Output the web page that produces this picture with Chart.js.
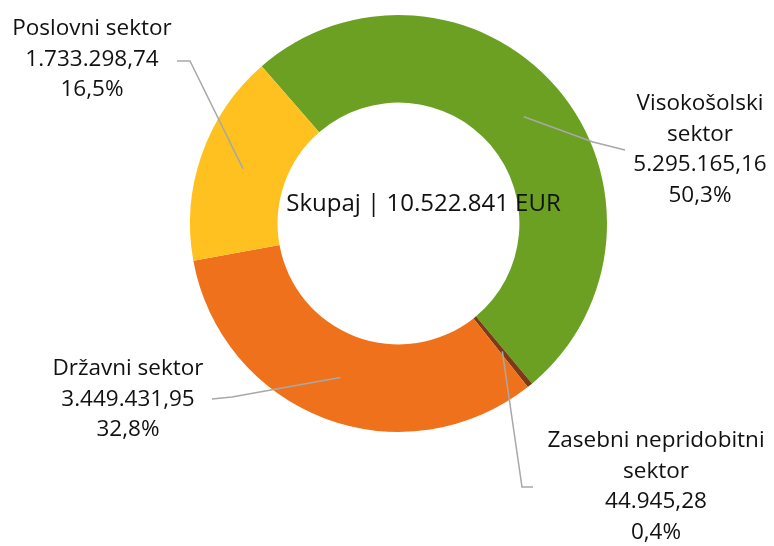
<!DOCTYPE html>
<html>
<head>
<meta charset="utf-8">
<title>Skupaj po sektorjih</title>
<script src="https://cdn.jsdelivr.net/npm/chart.js@4.4.0/dist/chart.umd.min.js"></script>
<style>
  html, body { margin: 0; padding: 0; background: #fff; }
  #wrap { width: 774px; height: 546px; }
</style>
</head>
<body>
<div id="wrap"><canvas id="sectorChart"></canvas></div>
<script>
// data
const sectors = ['Visokošolski sektor', 'Zasebni nepridobitni sektor', 'Državni sektor', 'Poslovni sektor'];
const nameLines = [['Visokošolski', 'sektor'], ['Zasebni nepridobitni', 'sektor'], ['Državni sektor'], ['Poslovni sektor']];
const amounts = [5295165.16, 44945.28, 3449431.95, 1733298.74];
const colors = ['#6ba023', '#7b3b14', '#f0711b', '#fec11f'];

// where each label sits (text centre, first line) and the bend of its leader line
const labelLayout = [
    { x: 700, y: 104, elbow: [593, 142], end: [625, 150] },
    { x: 656, y: 441, elbow: [522, 487], end: [533, 487] },
    { x: 128, y: 369, elbow: [232, 397], end: [212, 399] },
    { x: 92,  y: 29,  elbow: [190, 61],  end: [177, 61] }
];

function fmtNum(v, dec) {
    const parts = v.toFixed(dec).split('.');
    const int = parts[0].replace(/\B(?=(\d{3})+(?!\d))/g, '.');
    return dec ? int + ',' + parts[1] : int;
}

const total = amounts.reduce((a, b) => a + b, 0);

const labelPlugin = {
    id: 'sectorLabels',
    afterDatasetsDraw(chart) {
        const ctx = chart.ctx;
        const arcs = chart.getDatasetMeta(0).data;
        ctx.save();
        ctx.strokeStyle = '#a8a8a8';
        ctx.lineWidth = 1.5;
        arcs.forEach(function(arc, i) {
            const p = arc.getCenterPoint();
            const l = labelLayout[i];
            ctx.beginPath();
            ctx.moveTo(p.x, p.y);
            ctx.lineTo(l.elbow[0], l.elbow[1]);
            ctx.lineTo(l.end[0], l.end[1]);
            ctx.stroke();
        });

        ctx.fillStyle = '#111';
        ctx.textAlign = 'center';
        ctx.textBaseline = 'middle';
        ctx.font = '22.5px "Open Sans"';
        arcs.forEach(function(arc, i) {
            const l = labelLayout[i];
            const lines = nameLines[i].concat([
                fmtNum(amounts[i], 2),
                fmtNum(amounts[i] / total * 100, 1) + '%'
            ]);
            lines.forEach(function(t, k) {
                ctx.fillText(t, l.x, l.y + k * 30.5);
            });
        });

        const c = arcs[0];
        ctx.font = '24px "Open Sans"';
        ctx.fillText('Skupaj | ' + fmtNum(total, 0) + ' EUR', c.x + 25, c.y - 19);
        ctx.restore();
    }
};

new Chart(document.getElementById('sectorChart'), {
    type: 'doughnut',
    data: {
        labels: sectors,
        datasets: [{
            data: amounts,
            backgroundColor: colors,
            borderWidth: 0,
            hoverOffset: 0
        }]
    },
    options: {
        responsive: true,
        maintainAspectRatio: false,
        animation: false,
        rotation: -41,
        cutout: '58%',
        layout: { padding: { left: 190, right: 167, top: 15, bottom: 114 } },
        plugins: {
            legend: { display: false },
            tooltip: { enabled: false }
        }
    },
    plugins: [labelPlugin]
});
</script>
</body>
</html>
